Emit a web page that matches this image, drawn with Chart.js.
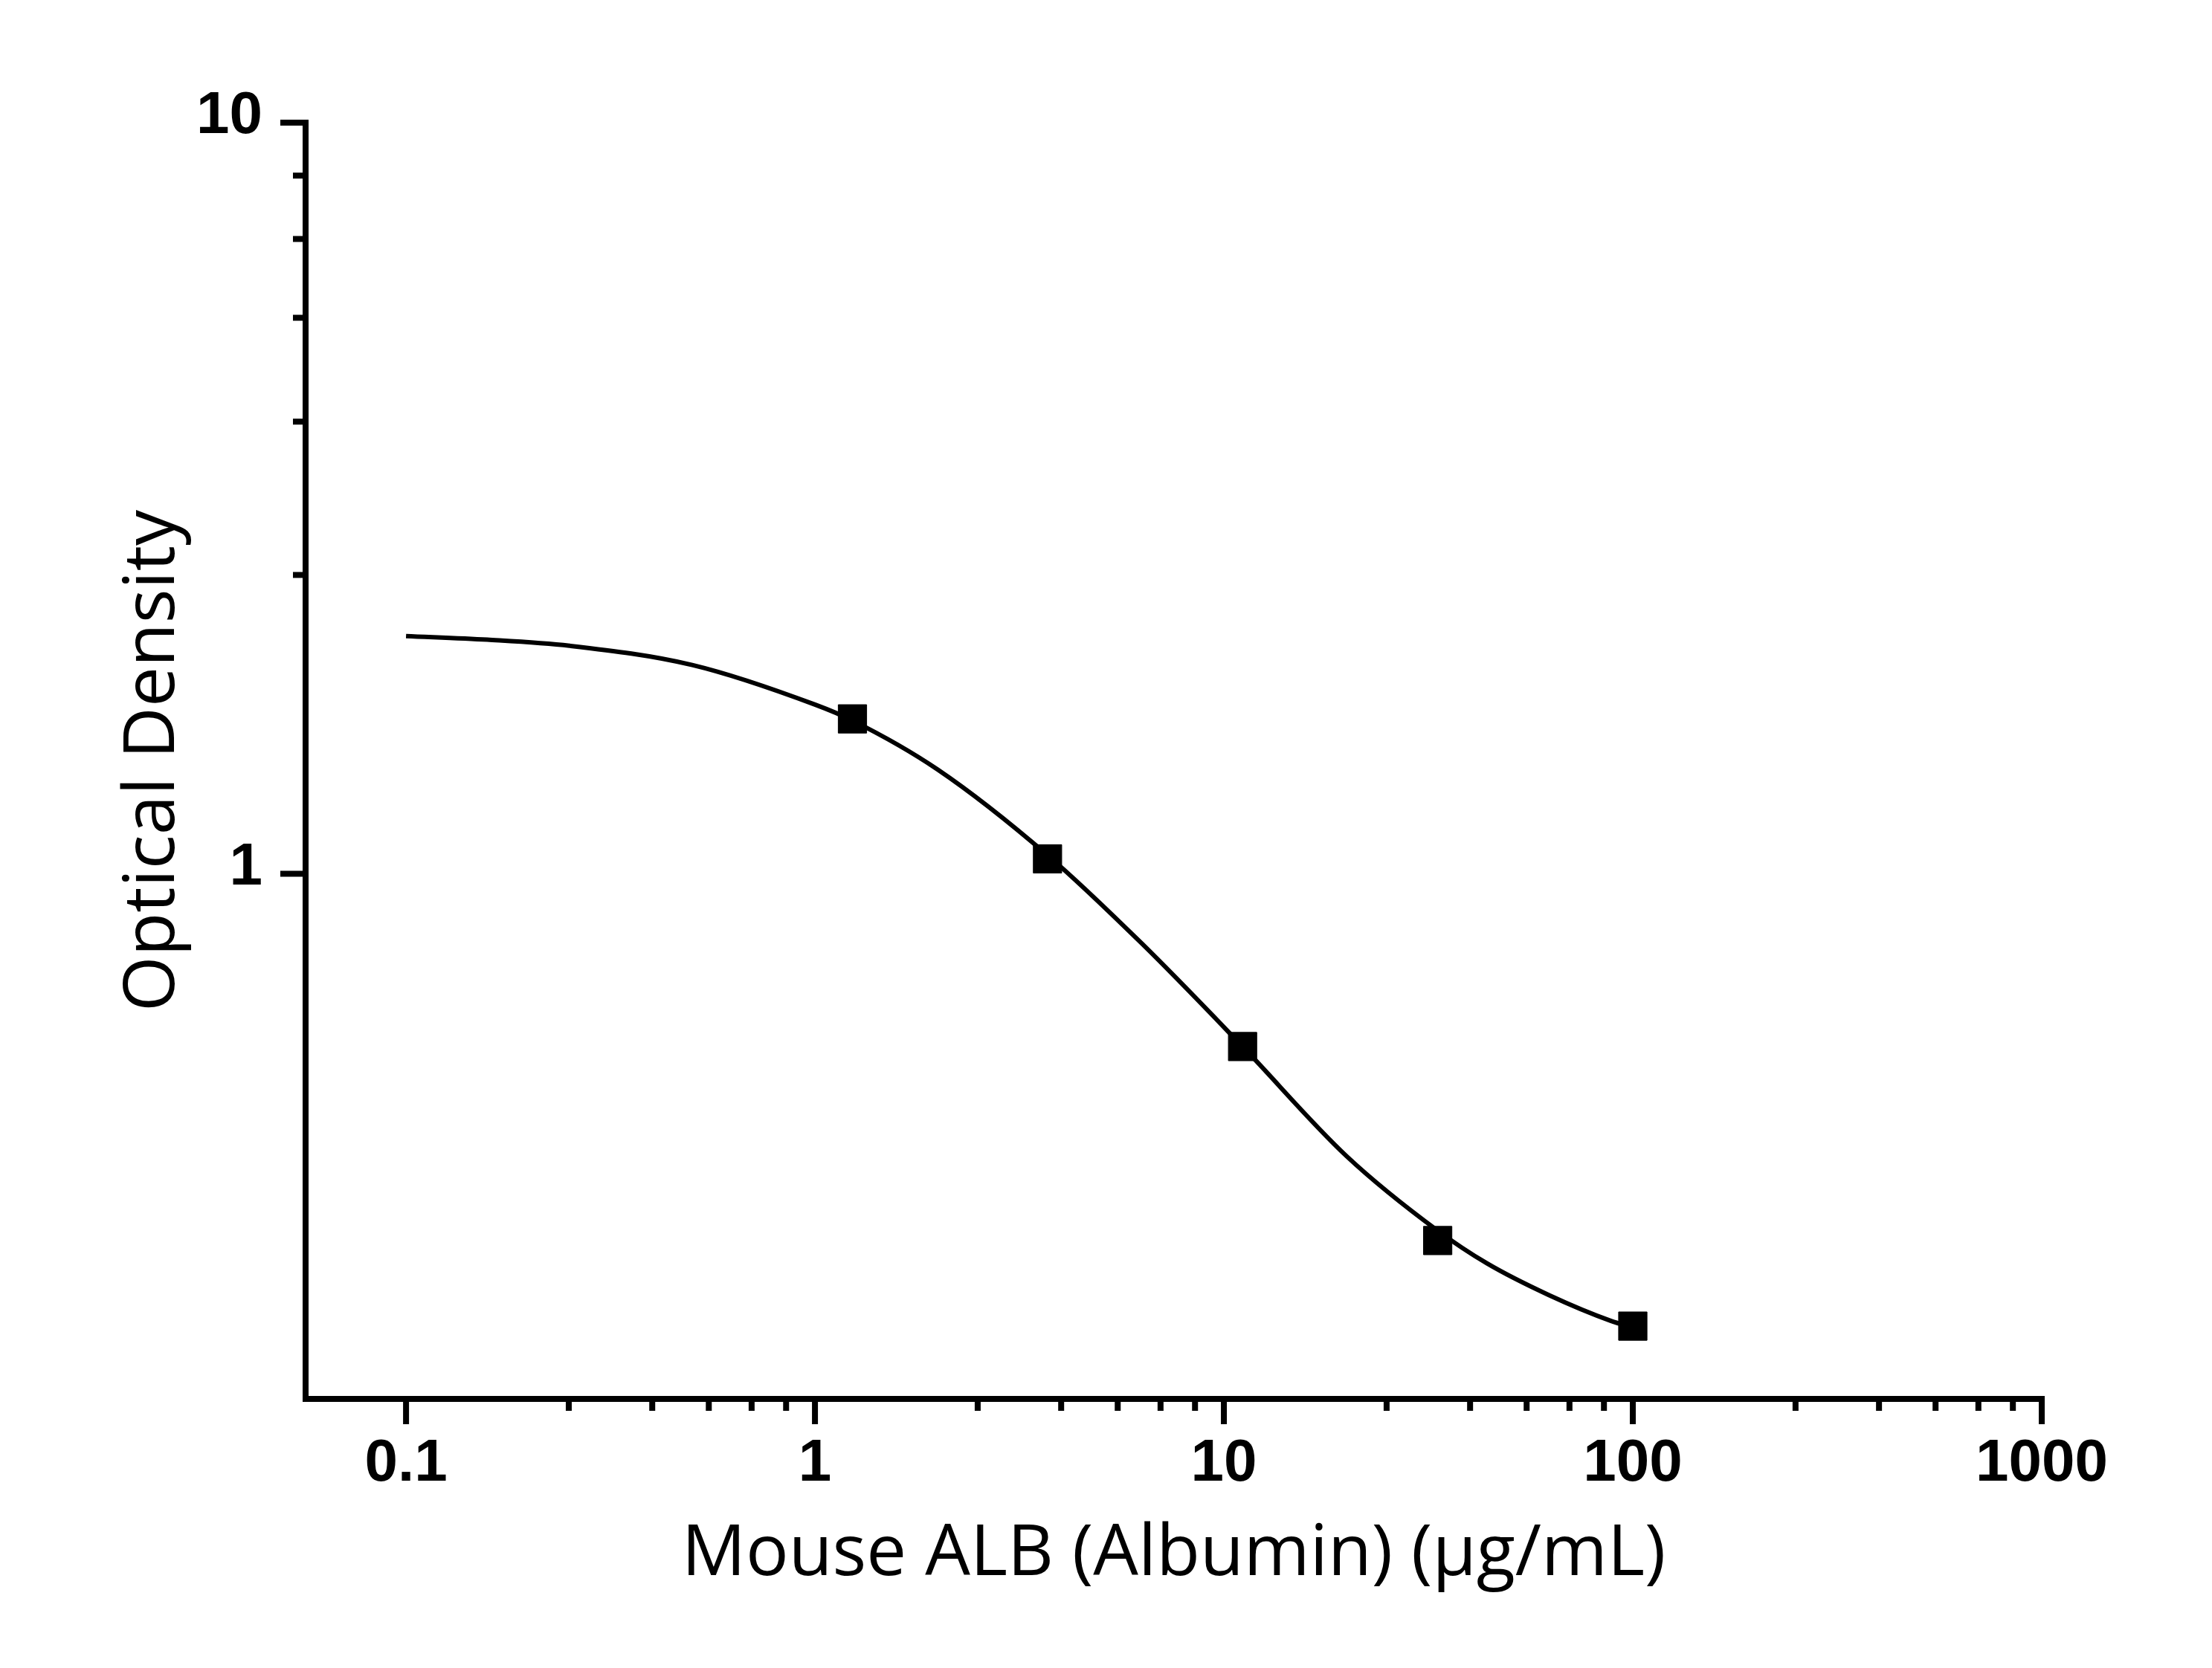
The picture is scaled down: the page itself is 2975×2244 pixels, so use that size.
<!DOCTYPE html>
<html>
<head>
<meta charset="utf-8">
<script src="https://cdn.jsdelivr.net/npm/chart.js@4.4.1/dist/chart.umd.min.js"></script>
<style>
  html, body { margin: 0; padding: 0; background: #fff; }
  canvas { display: block; }
</style>
</head>
<body>
<canvas id="odChart" width="2975" height="2244"></canvas>
<script>
// measured standards (3-fold dilution)
const concentrations = [1.235, 3.704, 11.11, 33.33, 100];
const odValues = [1.608, 1.047, 0.589, 0.325, 0.250];

// fitted curve
const curveX = [0.1, 0.158, 0.251, 0.501, 1, 1.235, 1.995, 3.704, 6.31, 11.11, 19.95, 33.33, 44.0, 62.3, 88.5, 100];
const curveY = [2.073, 2.050, 2.012, 1.897, 1.680, 1.600, 1.377, 1.059, 0.807, 0.589, 0.421, 0.335, 0.303, 0.275, 0.254, 0.249];

// axes
const xTickValues = [0.1, 1, 10, 100, 1000];
const yTickValues = [1, 10];
const minorSteps = [2.5, 4, 5.5, 7, 8.5];

const tickFont = { family: 'Liberation Sans', size: 80, weight: 'bold' };
const titleFont = { family: 'Open Sans', size: 96 };

// axis lines and ticks drawn the Origin way
const axisFrame = {
  id: 'axisFrame',
  afterDraw(chart) {
    const { ctx, chartArea: a, scales: { x, y } } = chart;
    const w = 8;
    ctx.save();
    ctx.strokeStyle = '#000';
    ctx.lineWidth = w;
    ctx.beginPath();
    ctx.moveTo(a.left, a.top - w / 2);
    ctx.lineTo(a.left, a.bottom + w / 2);
    ctx.moveTo(a.left - w / 2, a.bottom);
    ctx.lineTo(a.right + w / 2, a.bottom);

    const xBase = a.bottom + w / 2;
    xTickValues.forEach((d, i) => {
      const px = x.getPixelForValue(d);
      ctx.moveTo(px, xBase);
      ctx.lineTo(px, xBase + 30);
      if (i < xTickValues.length - 1) {
        minorSteps.forEach(m => {
          const mx = x.getPixelForValue(d * m);
          ctx.moveTo(mx, xBase);
          ctx.lineTo(mx, xBase + 12);
        });
      }
    });

    const yBase = a.left - w / 2;
    yTickValues.forEach((d, i) => {
      const py = y.getPixelForValue(d);
      ctx.moveTo(yBase, py);
      ctx.lineTo(yBase - 30, py);
      if (i < yTickValues.length - 1) {
        minorSteps.forEach(m => {
          const my = y.getPixelForValue(d * m);
          ctx.moveTo(yBase, my);
          ctx.lineTo(yBase - 13, my);
        });
      }
    });
    ctx.stroke();
    ctx.restore();
  }
};

const data = {
  datasets: [
    {
      label: 'Standards',
      data: concentrations.map((c, i) => ({ x: c, y: odValues[i] })),
      pointStyle: 'rect',
      pointRadius: 27,
      backgroundColor: '#000',
      borderColor: '#000',
      borderWidth: 1,
      showLine: false
    },
    {
      label: 'Fit',
      data: curveX.map((c, i) => ({ x: c, y: curveY[i] })),
      showLine: true,
      borderColor: '#000',
      borderWidth: 6,
      pointRadius: 0,
      cubicInterpolationMode: 'monotone',
      fill: false
    }
  ]
};

const config = {
  type: 'scatter',
  data,
  options: {
    responsive: false,
    animation: false,
    devicePixelRatio: 1,
    layout: { padding: { left: 0, right: 229, top: 165, bottom: 0 } },
    plugins: {
      legend: { display: false },
      tooltip: { enabled: false }
    },
    scales: {
      x: {
        type: 'logarithmic',
        min: 0.0568,
        max: 1000,
        afterFit: (s) => { s.height = 362; },
        afterBuildTicks: (s) => { s.ticks = xTickValues.map(v => ({ value: v })); },
        grid: { display: false, drawTicks: false },
        border: { display: false },
        ticks: {
          autoSkip: false,
          maxRotation: 0,
          padding: 40,
          color: '#000',
          font: tickFont,
          callback: (v) => String(v)
        },
        title: {
          display: true,
          text: 'Mouse ALB (Albumin) (μg/mL)',
          color: '#000',
          font: titleFont,
          padding: { top: 0, bottom: 95 }
        }
      },
      y: {
        type: 'logarithmic',
        min: 0.2,
        max: 10,
        afterFit: (s) => { s.width = 411; },
        afterBuildTicks: (s) => { s.ticks = yTickValues.map(v => ({ value: v })); },
        grid: { display: false, drawTicks: false },
        border: { display: false },
        ticks: {
          autoSkip: false,
          padding: 58,
          labelOffset: -8,
          color: '#000',
          font: tickFont,
          callback: (v) => String(v)
        },
        title: {
          display: true,
          text: 'Optical Density',
          color: '#000',
          font: titleFont,
          padding: { top: 149, bottom: 0 }
        }
      }
    }
  },
  plugins: [axisFrame]
};

const odChart = new Chart(document.getElementById('odChart'), config);
</script>
</body>
</html>
